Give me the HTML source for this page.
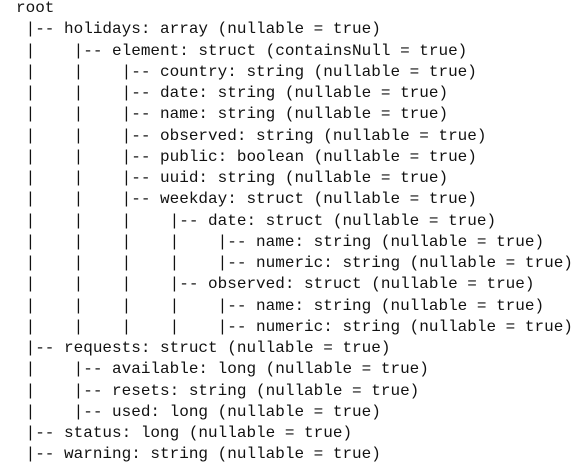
<!DOCTYPE html>
<html><head><style>
html,body{margin:0;padding:0;background:#fff;width:580px;height:468px;overflow:hidden}
pre{position:absolute;left:16px;top:-2px;margin:0;font-family:"Liberation Mono",monospace;font-size:16px;line-height:21.25px;color:#111}
</style></head><body>
<pre>root
 |-- holidays: array (nullable = true)
 |    |-- element: struct (containsNull = true)
 |    |    |-- country: string (nullable = true)
 |    |    |-- date: string (nullable = true)
 |    |    |-- name: string (nullable = true)
 |    |    |-- observed: string (nullable = true)
 |    |    |-- public: boolean (nullable = true)
 |    |    |-- uuid: string (nullable = true)
 |    |    |-- weekday: struct (nullable = true)
 |    |    |    |-- date: struct (nullable = true)
 |    |    |    |    |-- name: string (nullable = true)
 |    |    |    |    |-- numeric: string (nullable = true)
 |    |    |    |-- observed: struct (nullable = true)
 |    |    |    |    |-- name: string (nullable = true)
 |    |    |    |    |-- numeric: string (nullable = true)
 |-- requests: struct (nullable = true)
 |    |-- available: long (nullable = true)
 |    |-- resets: string (nullable = true)
 |    |-- used: long (nullable = true)
 |-- status: long (nullable = true)
 |-- warning: string (nullable = true)</pre>
</body></html>
